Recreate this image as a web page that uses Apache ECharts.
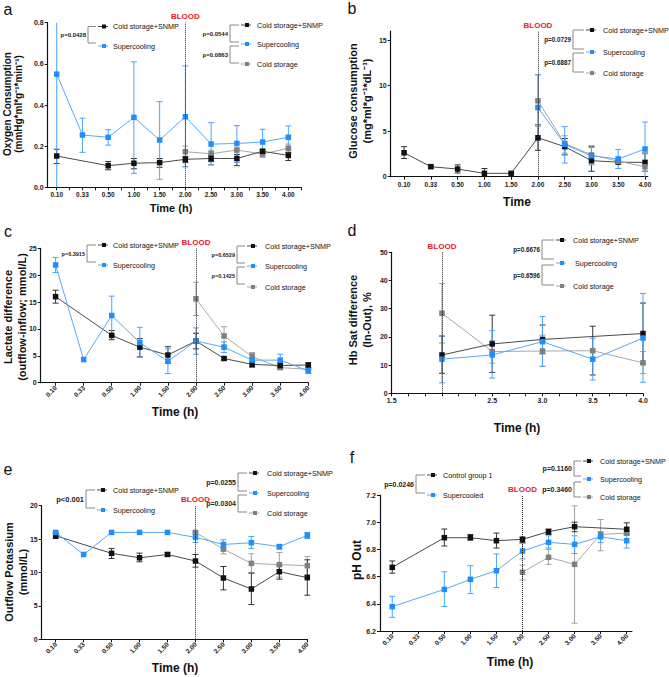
<!DOCTYPE html>
<html>
<head>
<meta charset="utf-8">
<script src="https://cdn.jsdelivr.net/npm/echarts@6/dist/echarts.min.js"></script>
<style>
html, body { margin: 0; padding: 0; background: #fff; }
#main { width: 669px; height: 677px; }
</style>
</head>
<body>
<div id="main"></div>
<script>
var FONT = 'Liberation Sans, Arial, sans-serif';

// time points (category index used as x position)
var timeLabels = ['0.10', '0.33', '0.50', '1.00', '1.50', '2.00', '2.50', '3.00', '3.50', '4.00'];
var idx = timeLabels.map(function (t, i) { return i; });
var dTimes = [2.0, 2.5, 3.0, 3.5, 4.0];

// a - oxygen consumption
var aSnmp   = [0.152, null, 0.105, 0.117, 0.12, 0.136, 0.14, 0.14, 0.175, 0.155];
var aSnmpHi = [0.185, null, 0.125, 0.14, 0.14, 0.15, 0.155, 0.16, 0.185, 0.17];
var aSnmpLo = [0.115, null, 0.085, 0.09, 0.097, 0.12, 0.125, 0.105, 0.165, 0.13];
var aSuper   = [0.55, 0.254, 0.243, 0.34, 0.23, 0.343, 0.21, 0.213, 0.22, 0.243];
var aSuperHi = [1.1, 0.336, 0.28, 0.61, 0.416, 0.59, 0.314, 0.3, 0.282, 0.298];
var aSuperLo = [0, 0.17, 0.205, 0.068, 0.039, 0.1, 0.108, 0.121, 0.155, 0.185];
var aCold   = [null, null, null, null, null, 0.173, 0.163, 0.181, 0.162, 0.19];
var aColdHi = [null, null, null, null, null, 0.2, 0.18, 0.19, 0.175, 0.21];
var aColdLo = [null, null, null, null, null, 0.1, 0.11, 0.13, 0.145, 0.17];

// b - glucose consumption
var bSnmp   = [2.63, 1.1, 0.84, 0.37, 0.37, 4.28, 3.3, 1.76, 1.6, 1.57];
var bSnmpHi = [3.3, 1.25, 1.3, 0.9, 0.45, 5.7, 4.2, 3.3, 1.75, 2.6];
var bSnmpLo = [2.0, 0.95, 0.4, 0, 0.3, 2.9, 2.4, 0.6, 1.45, 0.6];
var bSuper   = [null, null, null, null, null, 7.6, 3.55, 2.3, 1.95, 3.04];
var bSuperHi = [null, null, null, null, null, 11.2, 5.5, 3.2, 3.0, 6.0];
var bSuperLo = [null, null, null, null, null, 4.0, 1.5, 1.3, 0.9, 0];
var bCold   = [null, null, null, null, null, 8.34, 3.65, 2.4, 1.7, 1.1];
var bColdHi = [null, null, null, null, null, 11.2, 4.5, 3.4, 1.9, 2.5];
var bColdLo = [null, null, null, null, null, 5.5, 2.6, 1.4, 1.5, 0.6];

// c - lactate difference
var cSnmp   = [16.0, null, 8.8, 6.6, 5.15, 7.75, 4.5, 3.4, 3.2, 3.3];
var cSnmpHi = [17.2, null, 9.7, 8.2, 6.7, 9.2, 4.8, 3.9, 3.7, 3.7];
var cSnmpLo = [14.8, null, 8.0, 4.8, 3.6, 6.3, 4.2, 2.9, 2.7, 2.9];
var cSuper   = [21.9, 4.3, 12.5, 7.45, 4.0, 7.75, 6.6, 4.2, 4.2, 2.2];
var cSuperHi = [23.3, null, 16.1, 10.3, 6.3, 10.2, 7.6, 5.4, 5.3, 2.6];
var cSuperLo = [20.5, null, 8.8, 4.7, 1.7, 5.3, 5.6, 3.0, 3.1, 1.7];
var cCold   = [null, null, null, null, null, 15.6, 8.7, 4.85, 2.8, 2.5];
var cColdHi = [null, null, null, null, null, 18.7, 10.4, 5.6, 3.1, 2.7];
var cColdLo = [null, null, null, null, null, 12.5, 7.0, 4.0, 2.5, 2.3];

// d - Hb sat difference
var dSnmp   = [13.6, 17.5, 19.1, null, 21.2];
var dSnmpHi = [20.3, 27.7, 24.2, 23.8, 32];
var dSnmpLo = [7.1, 7.4, 14.0, 6.5, 10.5];
var dSuper   = [12.1, 13.6, 18.3, 12.1, 19.6];
var dSuperHi = [20.3, 22.2, 27.2, 19.5, 35.4];
var dSuperLo = [3.7, 5.4, 9.6, 4.7, 3.9];
var dCold   = [28.4, 14.8, 15.0, 15.1, 10.8];
var dColdHi = [38.9, 18.7, 20.6, 15.5, 14.8];
var dColdLo = [17.8, 10.7, 9.5, 14.7, 7.0];

// e - outflow potassium
var eSnmp   = [15.5, null, 12.87, 12.2, 12.7, 11.72, 9.18, 7.53, 10.12, 9.23];
var eSnmpHi = [15.9, null, 13.6, 12.9, 13.0, 12.7, 10.9, 9.9, 11.0, 11.9];
var eSnmpLo = [15.1, null, 12.1, 11.6, 12.4, 10.8, 7.4, 5.2, 9.0, 6.6];
var eSuper   = [16.0, 12.7, 16.0, 16.0, 16.0, 15.26, 14.2, 14.46, 13.87, 15.56];
var eSuperHi = [16.2, null, null, null, null, 16.0, 14.9, 15.4, 14.2, 16.0];
var eSuperLo = [15.8, null, null, null, null, 14.5, 13.6, 13.6, 13.5, 15.1];
var eCold   = [null, null, null, null, null, 16.0, 13.5, 11.37, 11.17, 11.02];
var eColdHi = [null, null, null, null, null, 16.2, 14.2, 12.8, 13.0, 12.4];
var eColdLo = [null, null, null, null, null, 15.8, 12.8, 10.0, 9.3, 9.7];

// f - pH out
var fCtrl   = [6.668, null, 6.886, 6.886, 6.864, 6.874, 6.93, 6.967, null, 6.948];
var fCtrlHi = [6.715, null, 6.95, 6.91, 6.92, 6.89, 6.95, 7.0, null, 6.995];
var fCtrlLo = [6.625, null, 6.825, 6.87, 6.81, 6.85, 6.91, 6.93, null, 6.91];
var fSuper   = [6.379, null, 6.506, 6.58, 6.643, 6.788, 6.852, 6.837, 6.893, 6.864];
var fSuperHi = [6.455, null, 6.635, 6.68, 6.766, 6.845, 6.9, 6.9, 6.93, 6.92];
var fSuperLo = [6.3, null, 6.38, 6.475, 6.52, 6.73, 6.81, 6.77, 6.85, 6.81];
var fCold   = [null, null, null, null, null, 6.632, 6.742, 6.69, 6.91, 6.92];
var fColdHi = [null, null, null, null, null, 6.685, 6.8, 7.12, 7.02, 6.935];
var fColdLo = [null, null, null, null, null, 6.575, 6.69, 6.257, 6.79, 6.905];

var STY = {
    black: {mark: '#111111', line: '#4a4a4a', err: '#333333'},
    blue:  {mark: '#1e8fff', line: '#5aa9f5', err: '#4aa3ff'},
    gray:  {mark: '#7f7f7f', line: '#a8a8a8', err: '#a0a0a0'}
};

var chart = echarts.init(document.getElementById('main'), null, {renderer: 'svg'});

var grids = [
    {left: 47.7, top: 22.7, width: 253.5, height: 164.6},
    {left: 390.7, top: 31.1, width: 257, height: 145.6},
    {left: 40.7, top: 248.3, width: 267.6, height: 134.4},
    {left: 391.7, top: 252.3, width: 251.3, height: 141},
    {left: 41.7, top: 505.7, width: 265.6, height: 133.6},
    {left: 380, top: 495, width: 251.9, height: 136}
];

function baseAxis(gi) {
    return {
        gridIndex: gi,
        type: 'value',
        axisLine: {show: true, onZero: false, lineStyle: {color: '#111', width: 1.2}},
        axisTick: {show: true, length: 3, lineStyle: {color: '#111', width: 1}},
        splitLine: {show: false},
        axisLabel: {color: '#222', fontSize: 7, fontWeight: 'bold', fontFamily: FONT, margin: 4}
    };
}

function idxAxis(gi, min, max, rotate, ticks) {
    var a = baseAxis(gi);
    a.min = min;
    a.max = max;
    a.axisTick.customValues = ticks;
    a.axisLabel.customValues = idx;
    a.axisLabel.rotate = rotate;
    a.axisLabel.fontSize = 6.5;
    a.axisLabel.formatter = function (v) { return timeLabels[Math.round(v)]; };
    return a;
}

function yAxis(gi, min, max, interval, dec, custom) {
    var a = baseAxis(gi);
    a.min = min;
    a.max = max;
    a.interval = interval;
    a.axisLabel.formatter = function (v) { return v.toFixed(dec); };
    if (custom) {
        a.axisTick.customValues = custom;
        a.axisLabel.customValues = custom;
    }
    return a;
}

var halfTicks = [];
for (var h = 0; h <= 9.5; h += 0.5) halfTicks.push(h);

var dX = baseAxis(3);
dX.min = 1.5; dX.max = 4.0; dX.interval = 0.5;
dX.minorTick = {show: true, splitNumber: 3, length: 3, lineStyle: {color: '#111', width: 1}};
dX.axisLabel.formatter = function (v) { return Math.abs(v - 2) < 1e-6 ? '' : v.toFixed(1); };

var xAxes = [
    idxAxis(0, -0.35, 9.5, 0, halfTicks),
    idxAxis(1, -0.5, 9.1, 0, idx),
    idxAxis(2, -0.53, 9, 45, idx),
    dX,
    idxAxis(4, -0.5, 9, 45, idx),
    idxAxis(5, -0.47, 9.2, 45, idx)
];

var yAxes = [
    yAxis(0, 0, 0.8, 0.2, 1),
    yAxis(1, 0, 16, 5, 0, [0, 5, 10, 15]),
    yAxis(2, 0, 25, 5, 0),
    yAxis(3, 0, 50, 10, 0),
    yAxis(4, 0, 20, 5, 0),
    yAxis(5, 6.2, 7.2, 0.2, 1)
];

function errSeries(gi, xs, lo, hi, col) {
    var data = [];
    xs.forEach(function (x, i) {
        if (lo[i] != null && hi[i] != null) data.push([x, lo[i], hi[i]]);
    });
    return {
        type: 'custom', xAxisIndex: gi, yAxisIndex: gi, silent: true, z: 1,
        data: data,
        renderItem: function (params, api) {
            var cs = params.coordSys;
            var p1 = api.coord([api.value(0), api.value(2)]);
            var p2 = api.coord([api.value(0), api.value(1)]);
            var top = cs.y, bot = cs.y + cs.height;
            var y1 = Math.max(p1[1], top), y2 = Math.min(p2[1], bot);
            var st = {stroke: col, lineWidth: 1};
            var ch = [{type: 'line', shape: {x1: p1[0], y1: y1, x2: p1[0], y2: y2}, style: st}];
            if (p1[1] >= top) ch.push({type: 'line', shape: {x1: p1[0] - 3, y1: p1[1], x2: p1[0] + 3, y2: p1[1]}, style: st});
            if (p2[1] <= bot - 0.5) ch.push({type: 'line', shape: {x1: p2[0] - 3, y1: p2[1], x2: p2[0] + 3, y2: p2[1]}, style: st});
            return {type: 'group', children: ch};
        }
    };
}

function lineSeries(gi, xs, vals, sty, bloodAt) {
    var s = {
        type: 'line', xAxisIndex: gi, yAxisIndex: gi, z: 3,
        data: xs.map(function (x, i) { return [x, vals[i]]; }),
        connectNulls: true,
        symbol: 'rect', symbolSize: 5.5,
        lineStyle: {color: sty.line, width: 1},
        itemStyle: {color: sty.mark},
        silent: true
    };
    if (bloodAt != null) {
        s.markLine = {
            silent: true, symbol: ['none', 'none'], animation: false,
            lineStyle: {type: 'dotted', color: '#222', width: 1},
            label: {show: true, position: 'end', formatter: 'BLOOD', color: '#e8202a',
                    fontWeight: 'bold', fontSize: 8, fontFamily: FONT, distance: 2},
            data: [{xAxis: bloodAt}]
        };
    }
    return s;
}

function panel(gi, xs, sets, bloodAt) {
    var out = [];
    sets.forEach(function (st) {
        out.push(errSeries(gi, xs, st[2], st[1], STY[st[3]].err));
    });
    sets.forEach(function (st, k) {
        out.push(lineSeries(gi, xs, st[0], STY[st[3]], k === 0 ? bloodAt : null));
    });
    return out;
}

var series = [].concat(
    panel(0, idx, [[aCold, aColdHi, aColdLo, 'gray'], [aSnmp, aSnmpHi, aSnmpLo, 'black'], [aSuper, aSuperHi, aSuperLo, 'blue']], 5),
    panel(1, idx, [[bSnmp, bSnmpHi, bSnmpLo, 'black'], [bCold, bColdHi, bColdLo, 'gray'], [bSuper, bSuperHi, bSuperLo, 'blue']], 5),
    panel(2, idx, [[cCold, cColdHi, cColdLo, 'gray'], [cSnmp, cSnmpHi, cSnmpLo, 'black'], [cSuper, cSuperHi, cSuperLo, 'blue']], 5),
    panel(3, dTimes, [[dCold, dColdHi, dColdLo, 'gray'], [dSnmp, dSnmpHi, dSnmpLo, 'black'], [dSuper, dSuperHi, dSuperLo, 'blue']], 2.0),
    panel(4, idx, [[eCold, eColdHi, eColdLo, 'gray'], [eSnmp, eSnmpHi, eSnmpLo, 'black'], [eSuper, eSuperHi, eSuperLo, 'blue']], 5),
    panel(5, idx, [[fCold, fColdHi, fColdLo, 'gray'], [fCtrl, fCtrlHi, fCtrlLo, 'black'], [fSuper, fSuperHi, fSuperLo, 'blue']], 5)
);

// legend blocks with p-value brackets
function legend(o) {
    var els = [];
    var keys = o.keys;
    o.rows.forEach(function (y, k) {
        var s = STY[keys[k]];
        els.push({type: 'line', shape: {x1: o.mx - 6, y1: y, x2: o.mx + 4, y2: y}, style: {stroke: s.line, lineWidth: 1}});
        els.push({type: 'rect', shape: {x: o.mx - 2, y: y - 2, width: 4, height: 4}, style: {fill: s.mark}});
        els.push({type: 'text', x: o.tx, y: y, style: {text: o.labels[k], fontSize: o.fs || 7.2, fontFamily: FONT, fill: '#111', verticalAlign: 'middle'}});
    });
    o.brackets.forEach(function (b) {
        els.push({type: 'polyline', shape: {points: [[o.mx - 8, b[0]], [o.bx, b[0]], [o.bx, b[1]], [o.mx - 8, b[1]]]},
                  style: {stroke: '#888', fill: null, lineWidth: 1}});
        els.push({type: 'text', x: o.bx - 2, y: (b[0] + b[1]) / 2,
                  style: {text: b[2], fontSize: o.pfs || 6, fontWeight: 'bold', fontFamily: FONT, fill: '#222', align: 'right', verticalAlign: 'middle'}});
    });
    return els;
}

function txt(x, y, s, size, bold, rot, lh) {
    return {type: 'text', x: x, y: y, rotation: rot || 0,
            style: {text: s, fontSize: size, fontWeight: bold ? 'bold' : 'normal', fontFamily: FONT, fill: '#111',
                    align: 'center', verticalAlign: 'middle', lineHeight: lh || size * 1.2}};
}

var R = Math.PI / 2;
var graphics = [].concat(
    // panel letters
    txt(8, 9, 'a', 16), txt(352, 8, 'b', 16), txt(8, 231, 'c', 16),
    txt(352, 230, 'd', 16), txt(8, 469, 'e', 16), txt(352, 457, 'f', 16),
    // y titles
    txt(13, 104, 'Oxygen Consumption\n(mmHg*ml*g\u207B\u00B9*min\u207B\u00B9)', 10, true, R, 11),
    txt(360, 101, 'Glucose consumption\n(mg*ml*g\u207B\u00B9*dL\u207B\u00B9)', 11, true, R, 14),
    txt(15, 317, 'Lactate difference\n(outflow-inflow; mmol/L)', 11, true, R, 14),
    txt(360, 320, 'Hb Sat difference\n(In-Out), %', 11, true, R, 14),
    txt(16, 572, 'Outflow Potassium\n(mmol/L)', 11, true, R, 14),
    txt(357, 560, 'pH Out', 12, true, R),
    // x titles
    txt(171, 208, 'Time (h)', 11, true), txt(517, 202, 'Time', 12, true),
    txt(175, 412, 'Time (h)', 12, true), txt(517, 428, 'Time (h)', 12, true),
    txt(175, 668, 'Time (h)', 12, true), txt(510, 662, 'Time (h)', 12, true),
    // legends
    legend({rows: [26.5, 46], mx: 104, tx: 113, bx: 88, keys: ['black', 'blue'],
            labels: ['Cold storage+SNMP', 'Supercooling'], brackets: [[26.5, 43, 'p=0.0428']]}),
    legend({rows: [25, 44, 64], mx: 247, tx: 257, bx: 230, keys: ['black', 'blue', 'gray'],
            labels: ['Cold storage+SNMP', 'Supercooling', 'Cold storage'],
            brackets: [[25, 42, 'p=0.0544'], [46, 63, 'p=0.0863']]}),
    legend({rows: [30, 52, 73], mx: 592, tx: 603, bx: 573, keys: ['black', 'blue', 'gray'],
            labels: ['Cold storage+SNMP', 'Supercooling', 'Cold storage'],
            brackets: [[30, 49, 'p=0.0729'], [53, 72, 'p=0.6887']], pfs: 6.3}),
    legend({rows: [245, 265], mx: 104, tx: 113, bx: 87, keys: ['black', 'blue'],
            labels: ['Cold storage+SNMP', 'Supercooling'], brackets: [[245, 262, 'p=0.3915']], pfs: 5.5}),
    legend({rows: [246, 266, 287], mx: 253, tx: 265, bx: 237, keys: ['black', 'blue', 'gray'],
            labels: ['Cold storage+SNMP', 'Supercooling', 'Cold storage'],
            brackets: [[246, 263, 'p=0.6529'], [267, 284, 'p=0.1425']], pfs: 5.5}),
    legend({rows: [240, 263, 286], mx: 562, tx: 573, bx: 542, keys: ['black', 'blue', 'gray'],
            labels: ['Cold storage+SNMP', ' Supercooling', 'Cold storage'],
            brackets: [[240, 259, 'p=0.6676'], [265, 285, 'p=0.6596']], pfs: 6.3}),
    legend({rows: [490, 510], mx: 103, tx: 113, bx: 86, keys: ['black', 'blue'],
            labels: ['Cold storage+SNMP', 'Supercooling'], brackets: [[490, 508, 'p<0.001']], pfs: 7.5}),
    legend({rows: [473, 493, 513], mx: 255, tx: 267, bx: 238, keys: ['black', 'blue', 'gray'],
            labels: ['Cold storage+SNMP', 'Supercooling', 'Cold storage'],
            brackets: [[473, 491, 'p=0.0255'], [495, 512, 'p=0.0304']], pfs: 7}),
    legend({rows: [475, 495], mx: 433, tx: 443, bx: 416, keys: ['black', 'blue'],
            labels: ['Control group 1', 'Supercooled'], brackets: [[475, 493, 'p=0.0246']], pfs: 7}),
    legend({rows: [461, 479, 497], mx: 589, tx: 600, bx: 574, keys: ['black', 'blue', 'gray'],
            labels: ['Cold storage+SNMP', 'Supercooling', 'Cold storage'],
            brackets: [[461, 476, 'p=0.1160'], [482, 497, 'p=0.3460']], pfs: 7})
);

var option = {
    animation: false,
    backgroundColor: '#fff',
    grid: grids,
    xAxis: xAxes,
    yAxis: yAxes,
    series: series,
    graphic: graphics
};
chart.setOption(option);
</script>
</body>
</html>
